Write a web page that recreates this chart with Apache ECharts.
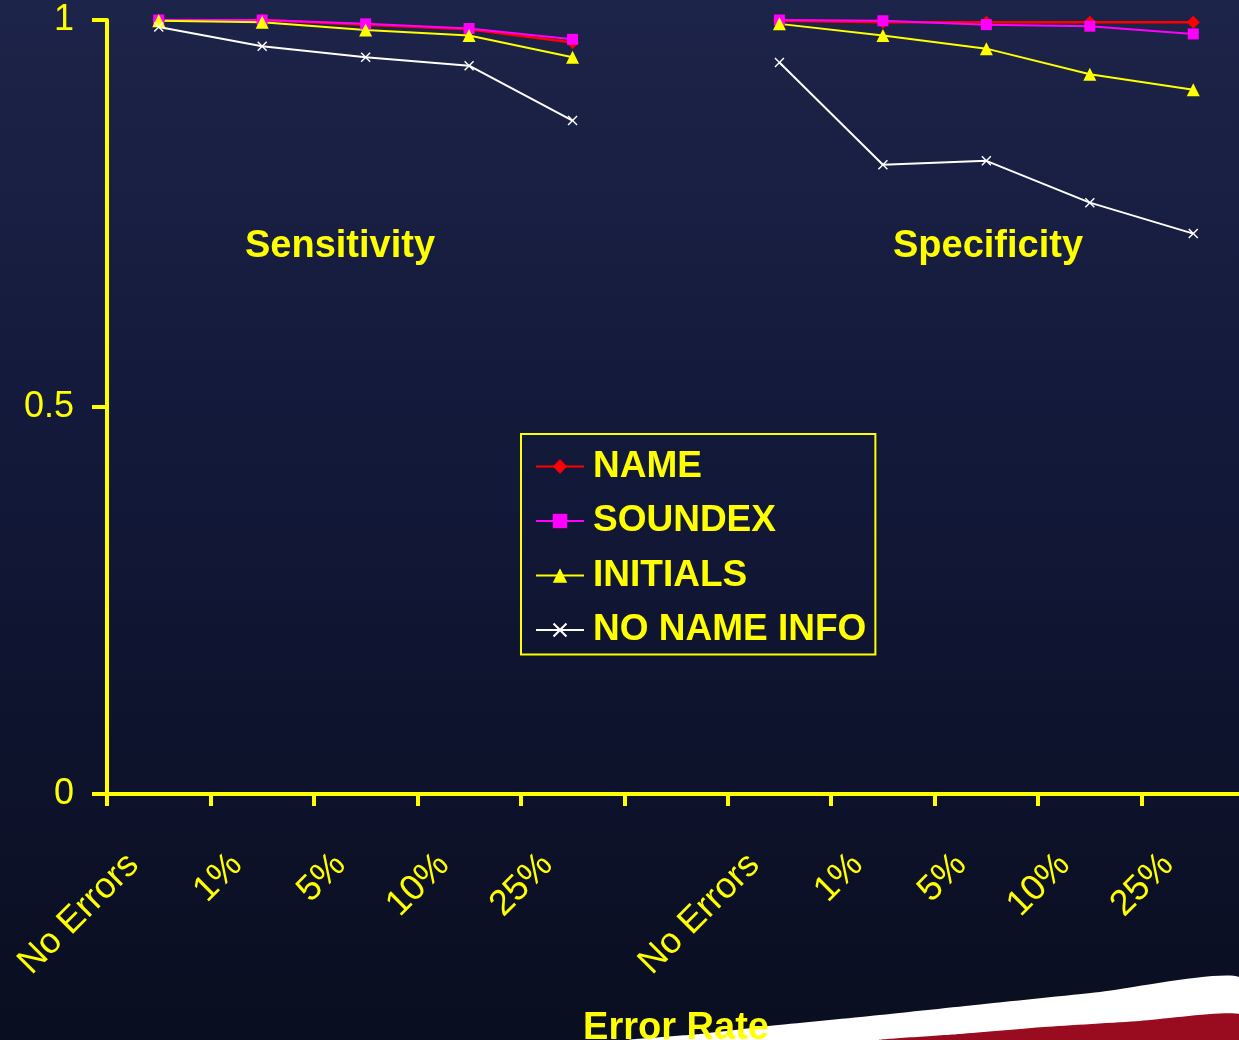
<!DOCTYPE html>
<html>
<head>
<meta charset="utf-8">
<script src="https://cdn.jsdelivr.net/npm/echarts@6/dist/echarts.min.js"></script>
<style>
  html, body { margin: 0; padding: 0; background: #0b1024; }
  #chart { width: 1239px; height: 1040px; }
</style>
</head>
<body>
<div id="chart"></div>
<script>
// Error-rate categories: sensitivity block, a spacer, then specificity block
const categories = ['No Errors', '1%', '5%', '10%', '25%', '', 'No Errors', '1%', '5%', '10%', '25%'];
const yTicks = [0, 0.5, 1];

// Sensitivity (first five) and specificity (last five); null breaks the line between blocks
const nameVals     = [1.000, 1.000, 0.994, 0.988, 0.971, null, 0.999, 0.997, 0.997, 0.997, 0.997];
const soundexVals  = [1.000, 1.000, 0.995, 0.989, 0.975, null, 1.000, 0.999, 0.994, 0.992, 0.982];
const initialsVals = [0.999, 0.997, 0.987, 0.980, 0.952, null, 0.995, 0.980, 0.963, 0.930, 0.910];
const noNameVals   = [0.991, 0.966, 0.952, 0.941, 0.870, null, 0.945, 0.813, 0.818, 0.764, 0.724];

const YELLOW = '#ffff00';
const FONT = '"Liberation Sans", Arial, sans-serif';
const CROSS = 'path://M0,1L1,0L5,4L9,0L10,1L6,5L10,9L9,10L5,6L1,10L0,9L4,5Z';

function lineSeries(name, data, color, symbol, size, width) {
  return {
    name: name,
    type: 'line',
    data: data,
    symbol: symbol,
    symbolSize: size,
    showAllSymbol: true,
    connectNulls: false,
    lineStyle: { color: color, width: width },
    itemStyle: { color: color, borderWidth: 0 },
    emphasis: { disabled: true },
    animation: false
  };
}

const chart = echarts.init(document.getElementById('chart'));
chart.setOption({
  backgroundColor: {
    type: 'linear', x: 0, y: 0, x2: 0, y2: 1,
    colorStops: [
      { offset: 0, color: '#1d2449' },
      { offset: 0.45, color: '#121838' },
      { offset: 1, color: '#090e20' }
    ]
  },
  animation: false,
  grid: { left: 107, top: 20, right: -6, bottom: 246, containLabel: false, outerBoundsMode: 'none' },
  xAxis: {
    type: 'category',
    z: 5,
    data: categories,
    boundaryGap: true,
    name: 'Error Rate',
    nameLocation: 'middle',
    nameGap: 216,
    nameTextStyle: { color: YELLOW, fontSize: 38, fontWeight: 'bold', fontFamily: FONT },
    axisLine: { show: true, lineStyle: { color: YELLOW, width: 4 } },
    axisTick: { show: true, alignWithLabel: false, interval: 0, length: 12, lineStyle: { color: YELLOW, width: 4 } },
    axisLabel: {
      interval: 0, rotate: 45, margin: 40,
      color: YELLOW, fontSize: 36, fontFamily: FONT,
      padding: [0, 36, 0, 0]
    },
    splitLine: { show: false }
  },
  yAxis: {
    type: 'value',
    min: yTicks[0], max: yTicks[yTicks.length - 1], interval: 0.5,
    axisLine: { show: true, lineStyle: { color: YELLOW, width: 4 } },
    axisTick: { show: true, length: 15, lineStyle: { color: YELLOW, width: 4 } },
    axisLabel: { color: YELLOW, fontSize: 36, fontFamily: FONT, margin: 33 },
    splitLine: { show: false }
  },
  legend: {
    orient: 'vertical',
    left: 521, top: 434,
    padding: [14, 9, 6, 14],
    borderColor: YELLOW, borderWidth: 2,
    itemWidth: 48, itemHeight: 18, itemGap: 17.5,
    selectedMode: false,
    textStyle: { color: YELLOW, fontSize: 37, fontWeight: 'bold', fontFamily: FONT, lineHeight: 37, padding: [0, 0, 0, 4] },
    data: ['NAME', 'SOUNDEX', 'INITIALS', 'NO NAME INFO']
  },
  series: [
    lineSeries('NAME', nameVals, '#ff0000', 'diamond', 13, 2.5),
    lineSeries('SOUNDEX', soundexVals, '#ff00ff', 'rect', 11, 2),
    lineSeries('INITIALS', initialsVals, YELLOW, 'triangle', 13, 2),
    lineSeries('NO NAME INFO', noNameVals, '#ffffff', CROSS, 10, 2)
  ],
  graphic: [
    {
      type: 'text', z: 10,
      x: 340, y: 247,
      style: { text: 'Sensitivity', fill: YELLOW, font: 'bold 38px ' + FONT, textAlign: 'center', textVerticalAlign: 'middle' }
    },
    {
      type: 'text', z: 10,
      x: 988, y: 247,
      style: { text: 'Specificity', fill: YELLOW, font: 'bold 38px ' + FONT, textAlign: 'center', textVerticalAlign: 'middle' }
    },
    // decorative white and red sweep along the lower right corner
    {
      type: 'polygon', z: 1, silent: true,
      shape: { points: [[630, 1040], [700, 1034], [769, 1026], [870, 1016], [975, 1005], [1100, 992], [1239, 977], [1239, 1040]], smooth: 0.2 },
      style: { fill: '#ffffff' }
    },
    {
      type: 'polygon', z: 2, silent: true,
      shape: { points: [[880, 1040], [960, 1034], [1044, 1027], [1140, 1021], [1239, 1014], [1239, 1040]], smooth: 0.2 },
      style: { fill: '#990c20' }
    }
  ]
});
</script>
</body>
</html>
